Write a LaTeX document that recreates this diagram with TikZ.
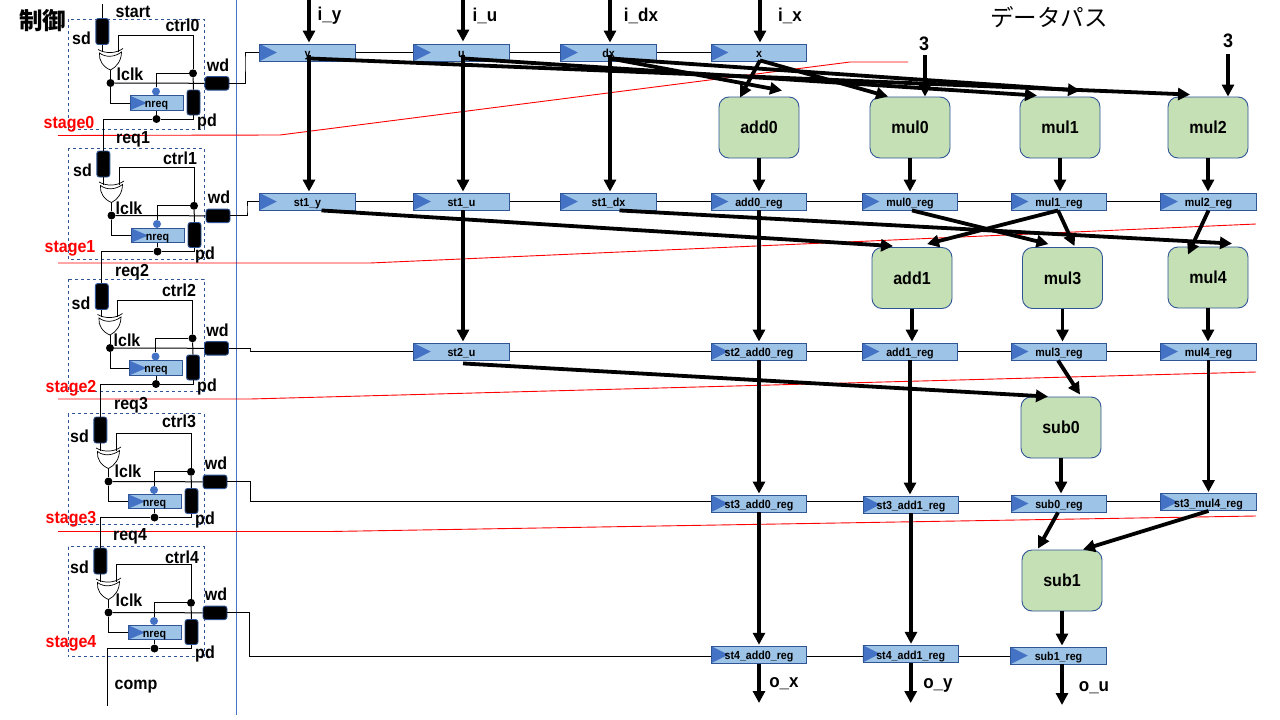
\documentclass[tikz,border=0pt]{standalone}
\usepackage{fontspec}
\setmainfont[FakeStretch=0.92]{Liberation Sans}
\newfontfamily\cjkfont{Noto Sans CJK JP}
\usepackage{tikz}
\usetikzlibrary{calc}
\usetikzlibrary{arrows.meta}
\definecolor{regfill}{RGB}{157, 195, 230}
\definecolor{regedge}{RGB}{47, 85, 151}
\definecolor{clktri}{RGB}{68, 114, 196}
\definecolor{opfill}{RGB}{197, 224, 180}
\tikzset{
    x=1pt, y=-1pt,
    wire/.style={black, line width=1pt},
    bus/.style={black, line width=3.8pt, -{Triangle[length=12pt,width=12pt]}},
    stageline/.style={red, line width=0.9pt},
    sepline/.style={clktri, line width=0.9pt},
    regbox/.style={draw=regedge, fill=regfill, line width=0.9pt, minimum width=95.5pt, minimum height=17pt,
        inner sep=0pt, text height=10.5pt, text depth=0pt, font=\fontsize{11.6}{12}\selectfont\bfseries,
        path picture={\fill[clktri] (path picture bounding box.north west) -- (path picture bounding box.south west)
            -- ([xshift=17pt]path picture bounding box.west) -- cycle;}},
    nreqbox/.style={regbox, minimum width=53pt, minimum height=14.5pt, text height=9.5pt},
    opbox/.style={draw=regedge, fill=opfill, line width=0.9pt, rounded corners=10pt, minimum width=80pt, minimum height=61pt,
        inner sep=0pt, font=\fontsize{17.4}{18}\selectfont\bfseries},
    latchv/.style={draw=regedge, fill=black, line width=0.9pt, rounded corners=2.5pt, minimum width=13pt, minimum height=26pt, inner sep=0pt},
    latchh/.style={draw=regedge, fill=black, line width=0.9pt, rounded corners=2.5pt, minimum width=24pt, minimum height=13.5pt, inner sep=0pt},
    dot/.style={circle, fill=black, minimum size=8pt, inner sep=0pt},
    bluedot/.style={circle, fill=clktri, minimum size=8pt, inner sep=0pt},
    stagebox/.style={draw=regedge, dashed, line width=0.8pt},
    txt/.style={inner sep=0pt, font=\fontsize{17.4}{18}\selectfont\bfseries},
    iotxt/.style={inner sep=0pt, font=\fontsize{18.5}{19}\selectfont\bfseries},
    numtxt/.style={inner sep=0pt, font=\fontsize{19.5}{20}\selectfont\bfseries},
    redtxt/.style={txt, red},
    cjktxt/.style={inner sep=0pt, font=\fontsize{23.5}{25}\selectfont\cjkfont},
}
\newcommand{\ctrlstage}[3]{%
    \begin{scope}[shift={(#2,#3)}]
        \node[latchv] (sd#1) at (102.3,31.5) {};
        \node[latchh] (wd#1) at (217,83.3) {};
        \node[latchv, minimum height=25pt] (pd#1) at (193.5,102.5) {};
        \node[nreqbox] (nreq#1) at (156.5,103) {nreq};
        \node[dot] (lk#1) at (110.5,83) {};
        \node[dot] (tr#1) at (193,73.3) {};
        \node[dot] (bot#1) at (156.5,119) {};
        \node[bluedot] (blue#1) at (156,91.5) {};
        \coordinate (ci#1) at (118,52);
        \coordinate (cc#1) at (118,35);
        \coordinate (si#1) at (102.3,52);
        \coordinate (go#1) at (110.5,70);
        \draw[wire] (sd#1.south) -- (si#1);
        \draw[wire] (ci#1) -- (cc#1) -| (tr#1);
        \draw[wire] (go#1) -- (lk#1);
        \draw[wire] (lk#1) -- (wd#1.west);
        \draw[wire] (lk#1) |- (nreq#1.west);
        \draw[wire] (tr#1) -- (pd#1.north);
        \draw[wire] (tr#1) -| (blue#1);
        \draw[wire] (nreq#1.south) -- (bot#1);
        \draw[wire] (pd#1.south) |- (bot#1);
        \draw[black, fill=white, line width=0.7pt] (99.5,53) .. controls (98.5,60) and (103,67) .. (110.5,70)
            .. controls (117,67) and (121.5,60) .. (121.5,52) .. controls (115,57) and (106,58) .. (99.5,53) -- cycle;
        \draw[black, line width=0.7pt] (98,49.5) .. controls (106,54) and (116,53.5) .. (123,48.5);
        \node[txt] (sdl#1) at (81.5,38) {sd};
        \node[txt] (wdl#1) at (218,65) {wd};
    \end{scope}
}

\begin{document}
\begin{tikzpicture}
    \useasboundingbox (0,0) rectangle (1280,720);
    \fill[white] (0,0) rectangle (1280,720);

    \draw[sepline] (236,0) -- (236,715);
    \draw[stageline] (58,135.5) -- (280,135) -- (850,62) -- (908,62);
    \draw[stageline] (58,263) -- (370,263) -- (1256,224);
    \draw[stageline] (58,399) -- (250,399) -- (1256,372);
    \draw[stageline] (58,531.5) -- (330,531.5) -- (1256,516);

    \foreach \n/\top/\bottom in {0/19/129, 1/148/259, 2/279/391, 3/413.5/524, 4/546.5/656.5}
        \draw[stagebox] (68,\top) rectangle (204,\bottom);

    \ctrlstage{0}{0}{0}
    \ctrlstage{1}{1}{132.5}
    \ctrlstage{2}{-0.5}{265}
    \ctrlstage{3}{-2}{398.5}
    \ctrlstage{4}{-2}{529.5}

    \coordinate (startend) at (102.3,4);
    \coordinate (compend) at (107.5,706);
    \draw[wire] (startend) -- (sd0.north);
    \draw[wire] (bot0) -| (sd1.north);
    \draw[wire] (bot1) -| (sd2.north);
    \draw[wire] (bot2) -| (sd3.north);
    \draw[wire] (bot3) -| (sd4.north);
    \draw[wire] (bot4) -| (compend);

    \node[txt] (start) at (133,12) {start};
    \node[txt] (comp) at (136,687) {comp};
    \foreach \n/\ax/\ay in {0/182.5/25, 1/180/158, 2/179/290, 3/179/421, 4/182/557}
        \node[txt] (ctrl\n) at (\ax,\ay) {ctrl\n};
    \foreach \n/\ax/\ay in {0/130/74, 1/129/208, 2/127/340, 3/128/471, 4/129/600}
        \node[txt] (lclk\n) at (\ax,\ay) {lclk};
    \foreach \n/\ax/\ay in {0/207/122, 1/205/255, 2/207/387, 3/205/520, 4/205/654}
        \node[txt] (pdl\n) at (\ax,\ay) {pd};
    \foreach \n/\ax/\ay in {1/133/139, 2/132/272, 3/131/405, 4/130/536}
        \node[txt] (req\n) at (\ax,\ay) {req\n};
    \foreach \n/\ax/\ay in {0/69/124, 1/70/248, 2/71/388, 3/71/519, 4/71/643}
        \node[redtxt] (stage\n) at (\ax,\ay) {stage\n};
    \node[cjktxt, font=\fontsize{23.5}{25}\selectfont\cjkfont\bfseries] (ctrltitle) at (43,21) {制御};
    \node[cjktxt] (dptitle) at (1049,17) {データパス};

    \foreach \nm/\ax/\ay/\lab in {y/307.5/52.5/y, u/461.5/52.5/u, dx/608.5/52.5/dx, x/759/52.5/x,
        st1y/307.5/201.5/st1\_y, st1u/461.5/201.5/st1\_u, st1dx/608.5/201.5/st1\_dx,
        add0reg/759/201.5/add0\_reg, mul0reg/910/201.5/mul0\_reg, mul1reg/1059/201.5/mul1\_reg, mul2reg/1208.5/201.5/mul2\_reg,
        st2u/461.5/351.5/st2\_u, st2add0/759/351.5/st2\_add0\_reg, add1reg/910/351.5/add1\_reg,
        mul3reg/1059/351.5/mul3\_reg, mul4reg/1208.5/351.5/mul4\_reg,
        st3add0/759/503.5/st3\_add0\_reg, st3add1/911/504.5/st3\_add1\_reg, sub0reg/1059/503.5/sub0\_reg, st3mul4/1208.5/502/st3\_mul4\_reg,
        st4add0/759/654.7/st4\_add0\_reg, st4add1/910.7/653.8/st4\_add1\_reg, sub1reg/1058.5/655.5/sub1\_reg}
        \node[regbox] (\nm) at (\ax,\ay) {\lab};

    \foreach \a/\b in {y/u, u/dx, dx/x, st1y/st1u, st1u/st1dx, st1dx/add0reg, add0reg/mul0reg, mul0reg/mul1reg, mul1reg/mul2reg,
        st2u/st2add0, st2add0/add1reg, add1reg/mul3reg, mul3reg/mul4reg}
        \draw[wire] (\a.east) -- (\b.west);

    \coordinate (w0) at (245,60);
    \coordinate (w1) at (247,210);
    \coordinate (w2) at (250,350);
    \coordinate (w3) at (250,501.5);
    \coordinate (w4) at (249,656.5);
    \foreach \a/\b in {st3add0/st3add1, st3add1/sub0reg, sub0reg/st3mul4}
        \draw[wire] (w3 -| \a.east) -- (w3 -| \b.west);
    \foreach \a/\b in {st4add0/st4add1, st4add1/sub1reg}
        \draw[wire] (w4 -| \a.east) -- (w4 -| \b.west);
    \draw[wire] (wd0.east) -| (w0) |- (y.west);
    \draw[wire] (wd1.east) -| (w1) |- (st1y.west);
    \draw[wire] (wd2.east) -| (w2) |- (st2u.west);
    \draw[wire] (wd3.east) -| (w3) -- (w3 -| st3add0.west);
    \draw[wire] (wd4.east) -| (w4) -- (w4 -| st4add0.west);

    \foreach \nm/\ax/\ay in {add0/759/127.5, mul0/910/127.5, mul1/1060/127.5, mul2/1208/127.5,
        add1/912/278, mul3/1062.5/278, mul4/1208/277.5, sub0/1061/427.5, sub1/1062/580.5}
        \node[opbox] (\nm) at (\ax,\ay) {\nm};

    \node[iotxt] (iy) at (329.5,16) {i\_y};
    \node[iotxt] (iu) at (485,16) {i\_u};
    \node[iotxt] (idx) at (641,16) {i\_dx};
    \node[iotxt] (ix) at (790,16) {i\_x};
    \node[iotxt] (ox) at (784,684) {o\_x};
    \node[iotxt] (oy) at (938,685) {o\_y};
    \node[iotxt] (ou) at (1094,688) {o\_u};
    \node[numtxt] (three0) at (924,44) {3};
    \node[numtxt] (three1) at (1228,41) {3};

    \coordinate (iyend) at (309,0);
    \coordinate (iuend) at (463,0);
    \coordinate (idxend) at (610,0);
    \coordinate (ixend) at (760,0);
    \coordinate (oxend) at (759,703);
    \coordinate (oyend) at (910.7,703);
    \coordinate (ouend) at (1062,705);
    \draw[bus] (iyend) -- ([xshift=1.5pt,yshift=1pt]y.north);
    \draw[bus] (iuend) -- ([xshift=1.5pt,yshift=2pt]u.north);
    \draw[bus] (idxend) -- ([xshift=1.5pt,yshift=1pt]dx.north);
    \draw[bus] (ixend) -- ([xshift=1pt,yshift=1pt]x.north);
    \draw[bus] ([xshift=1pt,yshift=-4pt]three0.south) -- ([xshift=15pt]mul0.north);
    \draw[bus] ([yshift=-6pt]three1.south) -- ([xshift=20pt]mul2.north);

    \draw[bus] ([xshift=1.5pt,yshift=6pt]y.south) -- ([xshift=1.5pt,yshift=1pt]st1y.north);
    \draw[bus] ([xshift=1.5pt,yshift=6pt]u.south) -- ([xshift=1.5pt,yshift=1pt]st1u.north);
    \draw[bus] ([xshift=1.5pt,yshift=6pt]dx.south) -- ([xshift=1.5pt,yshift=1pt]st1dx.north);
    \draw[bus] ([xshift=1.5pt]st1u.south) -- ([xshift=1.5pt,yshift=1pt]st2u.north);

    \draw[bus] ([xshift=1.5pt,yshift=3pt]y.south) -- ([xshift=-18pt,yshift=2pt]mul2.north);
    \draw[bus] ([xshift=1.5pt,yshift=3pt]u.south) -- ([xshift=-23pt,yshift=1pt]mul1.north);
    \draw[bus] ([xshift=1.5pt,yshift=3pt]dx.south) -- ([xshift=20pt,yshift=6pt]mul1.north);
    \draw[bus] ([xshift=1.5pt,yshift=3pt]dx.south) -- ([xshift=23pt,yshift=6pt]add0.north);
    \draw[bus] ([xshift=1pt,yshift=1pt]x.south) -- ([xshift=-19pt,yshift=-1pt]add0.north);
    \draw[bus] ([xshift=1pt,yshift=1pt]x.south) -- ([xshift=-22pt]mul0.north);

    \foreach \a/\b in {add0/add0reg, mul0/mul0reg, mul1/mul1reg, mul2/mul2reg, add1/add1reg, mul3/mul3reg, mul4/mul4reg, sub0/sub0reg, sub1/sub1reg}
        \draw[bus] (\a.south) -- ([yshift=1pt]\a.south |- \b.north);
    \foreach \a/\b in {add0reg/st2add0, st2add0/st3add0, st3add0/st4add0, add1reg/st3add1, st3add1/st4add1, mul4reg/st3mul4}
        \draw[bus] (\a.south) -- ([yshift=1pt]\a.south |- \b.north);

    \draw[bus] ([xshift=14pt]st1y.south) -- ([xshift=-19pt,yshift=1pt]add1.north);
    \draw[bus] ([xshift=11pt]st1dx.south) -- ([xshift=24pt,yshift=3pt]mul4.north);
    \draw[bus] ([xshift=2pt]mul0reg.south) -- ([xshift=-14pt,yshift=3pt]mul3.north);
    \draw[bus] ([xshift=-1pt]mul1reg.south) -- ([xshift=15pt,yshift=3pt]add1.north);
    \draw[bus] ([xshift=-1pt]mul1reg.south) -- ([xshift=12pt,yshift=1pt]mul3.north);
    \draw[bus] (mul2reg.south) -- ([xshift=-20pt,yshift=-8pt]mul4.north);
    \draw[bus] ([xshift=1.5pt,yshift=-3pt]st2u.south) -- ([xshift=-13pt]sub0.north);
    \draw[bus] ([xshift=-1pt]mul3reg.south) -- ([xshift=19pt,yshift=2pt]sub0.north);
    \draw[bus] ([xshift=-1pt]sub0reg.south) -- ([xshift=-24pt,yshift=1pt]sub1.north);
    \draw[bus] (st3mul4.south) -- ([xshift=21pt]sub1.north);

    \draw[bus] (st4add0.south) -- (oxend);
    \draw[bus] (st4add1.south) -- (oyend);
    \draw[bus] ([xshift=3.5pt]sub1reg.south) -- (ouend);
\end{tikzpicture}
\end{document}
